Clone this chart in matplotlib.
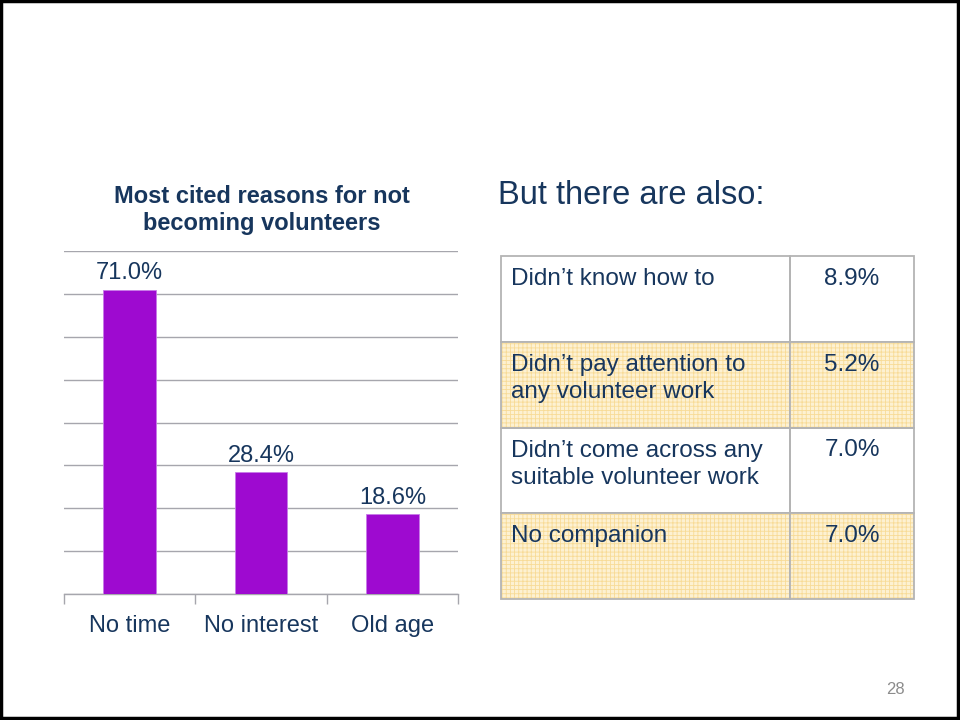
import matplotlib
matplotlib.use("Agg")
import matplotlib.pyplot as plt
from matplotlib.patches import Rectangle

# Bar chart data
categories = ["No time", "No interest", "Old age"]
shares = [71.0, 28.4, 18.6]

# Table data
reasons = [
    "Didn\u2019t know how to",
    "Didn\u2019t pay attention to\nany volunteer work",
    "Didn\u2019t come across any\nsuitable volunteer work",
    "No companion",
]
reason_shares = [8.9, 5.2, 7.0, 7.0]

NAVY = "#17365D"
PURPLE = "#9E0AD0"
GRID = "#A6A6AD"

plt.rcParams["font.family"] = ["Liberation Sans", "DejaVu Sans"]
plt.rcParams["hatch.linewidth"] = 0.6

fig = plt.figure(figsize=(9.6, 7.2), dpi=100)

# Page frame
frame = fig.add_axes([0, 0, 1, 1])
frame.set_xlim(0, 960)
frame.set_ylim(720, 0)
frame.axis("off")
frame.add_patch(Rectangle((1, 1), 957, 717, fill=False, edgecolor="black", linewidth=2.5))

# Bar chart
ax = fig.add_axes([64 / 960, 1 - 594 / 720, 394 / 960, 343 / 720])
x = list(range(len(categories)))
ax.bar(x, shares, width=0.4, color=PURPLE, edgecolor="#C77BE8", linewidth=0.6, zorder=3)
ax.set_xlim(-0.5, len(categories) - 0.5)
ax.set_ylim(0, 80)
ax.set_yticks(range(0, 81, 10))
ax.yaxis.grid(True, color=GRID, linewidth=1.0, zorder=0)
ax.tick_params(axis="y", length=0, labelleft=False)
ax.set_xticks(x)
ax.set_xticklabels(categories, fontsize=17, color=NAVY)
ax.tick_params(axis="x", length=0, pad=15)
ax.set_xticks([i - 0.5 for i in range(len(categories) + 1)], minor=True)
ax.tick_params(axis="x", which="minor", length=7, color=GRID, width=1.0, direction="out")
for side in ("left", "right", "top"):
    ax.spines[side].set_visible(False)
ax.spines["bottom"].set_color(GRID)
ax.spines["bottom"].set_linewidth(1.0)
for xi, v in zip(x, shares):
    ax.text(xi, v + 2.4, f"{v:.1f}%", ha="center", va="baseline", fontsize=17, color=NAVY)

fig.text(262 / 960, 1 - 210 / 720, "Most cited reasons for not\nbecoming volunteers",
         ha="center", va="center", fontsize=17, fontweight="bold", color=NAVY,
         linespacing=1.2)

# Heading for the table
frame.text(498, 196, "But there are also:", ha="left", va="center", fontsize=23.5, color=NAVY)

# Table
left, split, right = 501, 790, 914
row_top = 256
row_h = 85.75
for i, (label, val) in enumerate(zip(reasons, reason_shares)):
    top = row_top + i * row_h
    shaded = i % 2 == 1
    for x0, x1 in ((left, split), (split, right)):
        if shaded:
            frame.add_patch(Rectangle((x0, top), x1 - x0, row_h, facecolor="#FDF1D2",
                                      edgecolor="#F8DB96", hatch="++++", linewidth=0))
        frame.add_patch(Rectangle((x0, top), x1 - x0, row_h, fill=False,
                                  edgecolor="#B4B4B4", linewidth=1.3))
    frame.text(511, top + 12, label, ha="left", va="top", fontsize=17.5, color=NAVY,
               linespacing=1.3)
    frame.text((split + right) / 2, top + 12, f"{val:.1f}%", ha="center", va="top",
               fontsize=17.5, color=NAVY)

# Page number
frame.text(895, 689, "28", ha="center", va="center", fontsize=12, color="#8C8C8C")

fig.savefig("out.png", dpi=100)
